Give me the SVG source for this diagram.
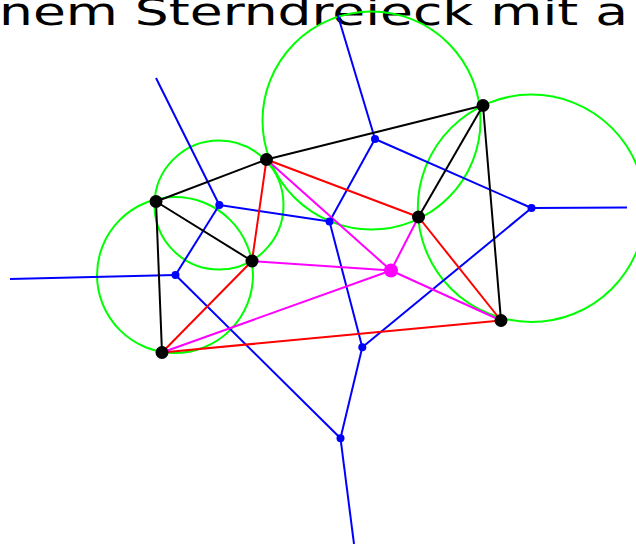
<svg xmlns="http://www.w3.org/2000/svg" width="636" height="544" viewBox="0 0 636 544">
  <style>
    .title { font-family: "DejaVu Sans", "Liberation Sans", sans-serif; font-size: 38px; fill: #000; }
    .circ { fill: none; stroke: #00ff00; stroke-width: 2; }
    .vor { stroke: #0000ff; stroke-width: 2; fill: none; }
    .edge { stroke: #000; stroke-width: 2; }
    .star { stroke: #ff0000; stroke-width: 2; }
    .spoke { stroke: #ff00ff; stroke-width: 2; }
    .site { fill: #000; }
    .vtx { fill: #0000ff; }
    .ctr { fill: #ff00ff; }
  </style>

  <text class="title" x="-1" y="25" textLength="629" lengthAdjust="spacingAndGlyphs">nem Sterndreieck mit a</text>

  <!-- circumcircles -->
  <g id="circles">
    <circle class="circ" cx="175" cy="275" r="78"/>
    <circle class="circ" cx="219" cy="205" r="64.5"/>
    <circle class="circ" cx="371.5" cy="120.5" r="109"/>
    <circle class="circ" cx="531.5" cy="208.3" r="113.7"/>
  </g>

  <g id="connectors">
    <!-- Voronoi edges -->
    <g id="voronoi">
      <line class="vor" x1="10" y1="279" x2="175.5" y2="275"/>
      <line class="vor" x1="175.5" y1="275" x2="219.3" y2="205"/>
      <line class="vor" x1="219.3" y1="205" x2="156" y2="78"/>
      <line class="vor" x1="219.3" y1="205" x2="329.5" y2="221.5"/>
      <line class="vor" x1="329.5" y1="221.5" x2="375" y2="139"/>
      <line class="vor" x1="375" y1="139" x2="337.7" y2="15"/>
      <line class="vor" x1="375" y1="139" x2="531.5" y2="208"/>
      <line class="vor" x1="531.5" y1="208" x2="627" y2="207.5"/>
      <line class="vor" x1="531.5" y1="208" x2="362.3" y2="347.3"/>
      <line class="vor" x1="329.5" y1="221.5" x2="362.3" y2="347.3"/>
      <line class="vor" x1="362.3" y1="347.3" x2="340.5" y2="438.3"/>
      <line class="vor" x1="175.5" y1="275" x2="340.5" y2="438.3"/>
      <line class="vor" x1="340.5" y1="438.3" x2="354" y2="544"/>
    </g>
    <!-- triangulation edges -->
    <g id="edges">
      <line class="edge" x1="156" y1="201.5" x2="266.5" y2="159.5"/>
      <line class="edge" x1="156" y1="201.5" x2="252" y2="261"/>
      <line class="edge" x1="156" y1="201.5" x2="162" y2="352.5"/>
      <line class="edge" x1="266.5" y1="159.5" x2="483" y2="105.5"/>
      <line class="edge" x1="418.5" y1="217" x2="483" y2="105.5"/>
      <line class="edge" x1="483" y1="105.5" x2="501" y2="320.5"/>
    </g>
    <!-- star polygon -->
    <g id="star">
      <line class="star" x1="266.5" y1="159.5" x2="252" y2="261"/>
      <line class="star" x1="252" y1="261" x2="162" y2="352.5"/>
      <line class="star" x1="162" y1="352.5" x2="501" y2="320.5"/>
      <line class="star" x1="501" y1="320.5" x2="418.5" y2="217"/>
      <line class="star" x1="418.5" y1="217" x2="266.5" y2="159.5"/>
    </g>
    <!-- spokes from the centre point -->
    <g id="spokes">
      <line class="spoke" x1="391" y1="270.5" x2="266.5" y2="159.5"/>
      <line class="spoke" x1="391" y1="270.5" x2="252" y2="261"/>
      <line class="spoke" x1="391" y1="270.5" x2="162" y2="352.5"/>
      <line class="spoke" x1="391" y1="270.5" x2="418.5" y2="217"/>
      <line class="spoke" x1="391" y1="270.5" x2="501" y2="320.5"/>
    </g>
  </g>

  <!-- Voronoi vertices -->
  <g id="v1"><circle class="vtx" cx="175.5" cy="275" r="4"/></g>
  <g id="v2"><circle class="vtx" cx="219.3" cy="205" r="4"/></g>
  <g id="v3"><circle class="vtx" cx="329.5" cy="221.5" r="4"/></g>
  <g id="v4"><circle class="vtx" cx="375" cy="139" r="4"/></g>
  <g id="v5"><circle class="vtx" cx="531.5" cy="208" r="4"/></g>
  <g id="v6"><circle class="vtx" cx="362.3" cy="347.3" r="4"/></g>
  <g id="v7"><circle class="vtx" cx="340.5" cy="438.3" r="4"/></g>

  <!-- sites -->
  <g id="pA"><circle class="site" cx="156" cy="201.5" r="6.5"/></g>
  <g id="pB"><circle class="site" cx="266.5" cy="159.5" r="6.5"/></g>
  <g id="pC"><circle class="site" cx="252" cy="261" r="6.5"/></g>
  <g id="pD"><circle class="site" cx="162" cy="352.5" r="6.5"/></g>
  <g id="pE"><circle class="site" cx="418.5" cy="217" r="6.5"/></g>
  <g id="pF"><circle class="site" cx="483" cy="105.5" r="6.5"/></g>
  <g id="pG"><circle class="site" cx="501" cy="320.5" r="6.5"/></g>

  <!-- centre point -->
  <g id="pH"><circle class="ctr" cx="391" cy="270.5" r="7"/></g>
</svg>
